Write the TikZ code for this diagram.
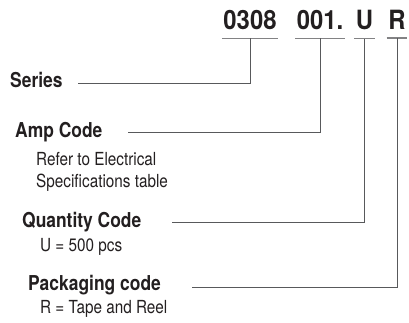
\documentclass[tikz,border=0pt]{standalone}
\usepackage{fontspec}
\setmainfont{TeX Gyre Heros}[FakeStretch=0.85]
\newfontfamily\digitfont{TeX Gyre Heros}[FakeStretch=0.9]
\usetikzlibrary{positioning}
\definecolor{ink}{HTML}{231F20}
\definecolor{rulegray}{HTML}{58595B}
\begin{document}
\begin{tikzpicture}[x=1pt,y=-1pt,
    part/.style={anchor=base,text=ink,inner xsep=1.5pt,inner ysep=8pt,
      font=\digitfont\bfseries\fontsize{26.5}{27}\selectfont},
    head/.style={anchor=base west,text=ink,inner sep=0pt,
      font=\bfseries\fontsize{20.5}{22}\selectfont},
    note/.style={anchor=base west,text=ink,inner sep=0pt,align=left,
      font=\fontsize{18}{21}\selectfont},
    lead/.style={draw=rulegray,line width=0.8pt},
    bar/.style={draw=rulegray!75,line width=1.4pt}]
  \useasboundingbox (0,0) rectangle (409,323);
  % part number
  \node[part] (p0308) at (250,30) {0308};
  \node[part] (p001) at (320,30) {001.};
  \node[part] (pU) at (364.5,30) {U};
  \node[part] (pR) at (397,30) {R};
  \foreach \p in {p0308,p001,pU,pR}
    \draw[bar] (\p.south west) -- (\p.south east);
  % labels
  \node[head] (series) at (10,88) {Series};
  \node[head] (amp) at (15,138) {Amp Code};
  \node[note] (ampnote) at (36,187) {Refer to Electrical\\Specifications table};
  \node[head] (qty) at (22,227) {Quantity Code};
  \node[note] (qtynote) at (40,251) {U = 500 pcs};
  \node[head] (pack) at (28,290) {Packaging code};
  \node[note] (packnote) at (40,313) {R = Tape and Reel};
  % leaders
  \coordinate (sSeries) at (78,83);
  \coordinate (sAmp) at (128,132);
  \coordinate (sQty) at (172,222);
  \coordinate (sPack) at (192,287);
  \draw[lead] (sSeries) -| (p0308.south);
  \draw[lead] (sAmp) -| (p001.south);
  \draw[lead] (sQty) -| (pU.south);
  \draw[lead] (sPack) -| (pR.south);
\end{tikzpicture}
\end{document}
